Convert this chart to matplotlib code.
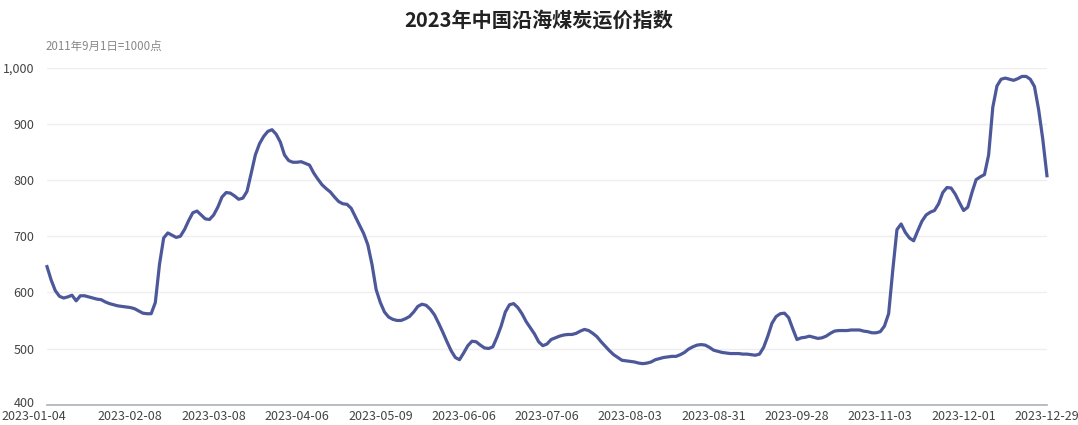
#!/usr/bin/env python3
import numpy as np
import matplotlib
matplotlib.use("Agg")
import matplotlib.pyplot as plt
import matplotlib.transforms as mtrans
from matplotlib.ticker import FuncFormatter

plt.rcParams['font.family'] = ['Noto Sans CJK SC', 'DejaVu Sans']

title = "2023年中国沿海煤炭运价指数"
subtitle = "2011年9月1日=1000点"

# tick labels, one every 20 trading days
tickLabels = ["2023-01-04", "2023-02-08", "2023-03-08", "2023-04-06",
              "2023-05-09", "2023-06-06", "2023-07-06", "2023-08-03",
              "2023-08-31", "2023-09-28", "2023-11-03", "2023-12-01",
              "2023-12-29"]
tickStep = 20

# index values (241 trading days)
index = [
    646, 622, 603, 593, 590, 592, 595, 585, 594, 594,
    592, 590, 588, 587, 583, 580, 578, 576, 575, 574,
    573, 571, 567, 563, 562, 562, 582, 650, 697, 706,
    702, 698, 700, 712, 728, 742, 745, 738, 731, 730,
    738, 752, 770, 778, 777, 772, 766, 768, 780, 812,
    845, 865, 878, 887, 890, 882, 868, 845, 835, 832,
    832, 833, 830, 827, 813, 802, 792, 785, 779, 770,
    762, 758, 757, 750, 735, 720, 705, 685, 650, 605,
    582, 565, 556, 552, 550, 550, 553, 557, 565, 575,
    579, 577, 570, 560, 545, 529, 512, 496, 484, 480,
    492, 505, 513, 512, 506, 501, 500, 503, 520, 540,
    565, 578, 580, 573, 562, 548, 537, 526, 512, 505,
    508, 516, 519, 522, 524, 525, 525, 527, 531, 534,
    532, 527, 521, 512, 504, 496, 489, 484, 479, 478,
    477, 476, 474, 473, 474, 476, 480, 482, 484, 485,
    486, 486, 489, 493, 499, 503, 506, 507, 506, 502,
    497, 495, 493, 492, 491, 491, 491, 490, 490, 489,
    488, 490, 502, 522, 545, 557, 562, 563, 555, 535,
    516, 519, 520, 522, 520, 518, 519, 522, 527, 531,
    532, 532, 532, 533, 533, 533, 531, 530, 528, 528,
    530, 540, 562, 640, 712, 722, 707, 697, 692, 710,
    727, 738, 743, 746, 758, 778, 787, 786, 775, 760,
    746, 752, 778, 801, 806, 810, 845, 930, 968, 980,
    982, 980, 978, 981, 985, 985, 980, 967, 926, 873,
    808,
]

x = np.arange(len(index))

fig = plt.figure(figsize=(10.78, 4.25), dpi=100)
ax = fig.add_axes([0.0436, 0.048, 0.9276, 0.792])

ax.plot(x, index, color='#4c5899', lw=2.3, solid_joinstyle='round',
        clip_on=False, zorder=3)

ax.set_xlim(0, len(index) - 1)
ax.set_ylim(400, 1000)
ax.set_yticks(np.arange(400, 1001, 100))
ax.yaxis.set_major_formatter(FuncFormatter(lambda v, p: "{:,.0f}".format(v)))
ax.set_xticks(np.arange(0, len(index), tickStep))
ax.set_xticklabels(tickLabels)

ax.grid(axis='y', color='#eeeeee', lw=1)
ax.set_axisbelow(True)
for s in ['top', 'right', 'left']:
    ax.spines[s].set_visible(False)
ax.spines['bottom'].set_color('#aab0bb')
ax.spines['bottom'].set_linewidth(1.2)
ax.tick_params(axis='both', length=0, labelsize=9, colors='#444444')
ax.tick_params(axis='x', pad=4)
ax.tick_params(axis='y', pad=9)

# first date label sits against the left edge, as in the original;
# lift the "400" label a touch so the two do not collide
first = ax.get_xticklabels()[0]
first.set_transform(first.get_transform() +
                    mtrans.ScaledTranslation(-13/100, 0, fig.dpi_scale_trans))
low = ax.get_yticklabels()[0]
low.set_transform(low.get_transform() +
                  mtrans.ScaledTranslation(0, 3/100, fig.dpi_scale_trans))

fig.text(0.5, 0.952, title, ha='center', va='center', fontsize=14.5,
         fontweight='bold', color='#222222')
fig.text(0.042, 0.892, subtitle, ha='left', va='center', fontsize=8.3,
         color='#888888')

fig.savefig("out.png", dpi=100)
